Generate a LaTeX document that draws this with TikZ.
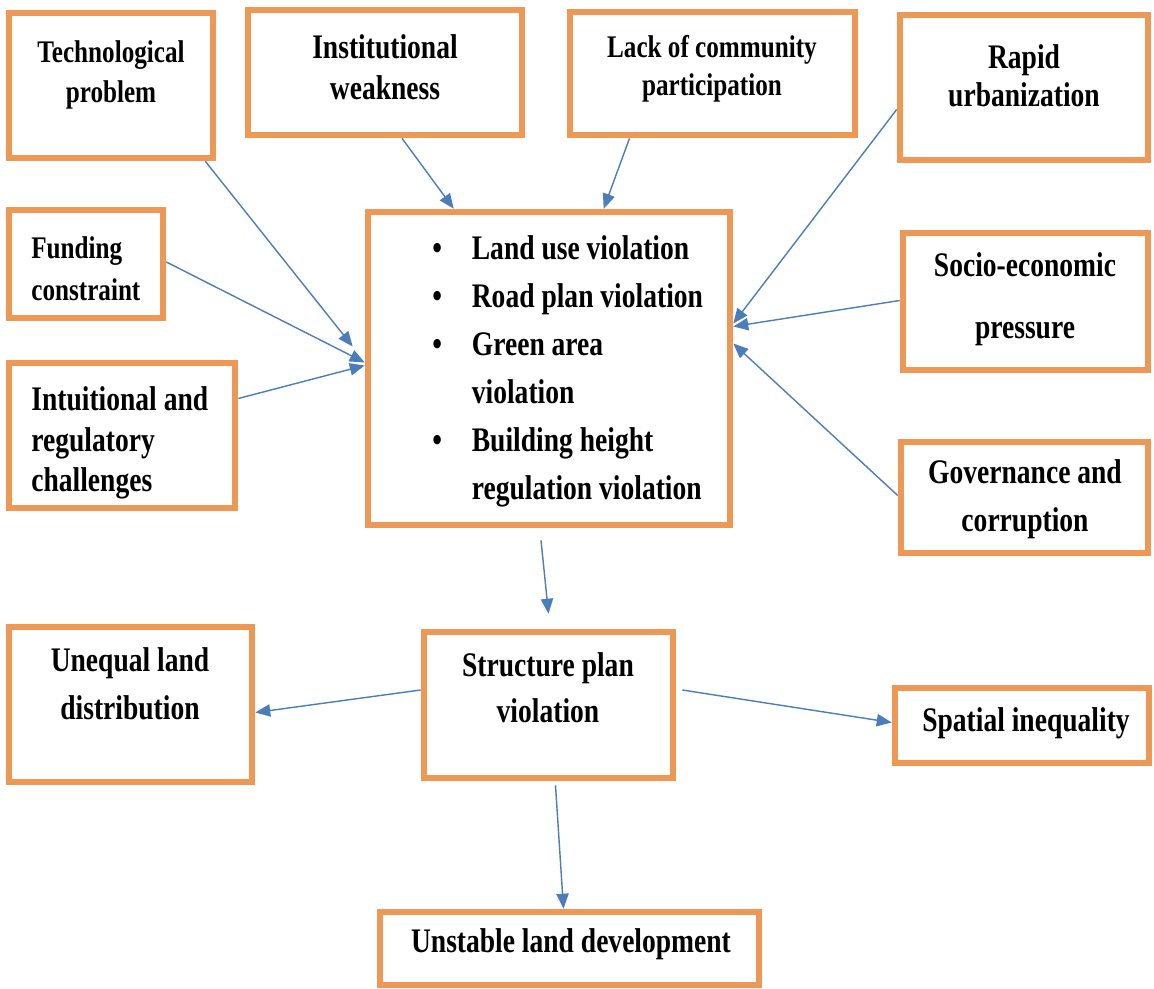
\documentclass[tikz,border=0pt]{standalone}
\usepackage{fontspec}
\setmainfont{Liberation Serif}[FakeStretch=0.8]
\usetikzlibrary{%
    arrows.meta,%
    calc,%
    positioning%
}
\definecolor{boxorange}{RGB}{237,152,84}
\definecolor{arrowblue}{RGB}{74,126,187}

\begin{document}
\begin{tikzpicture}[x=0.02cm, y=-0.02cm,
	box/.style={draw=boxorange, line width=3.8pt, inner sep=0pt},
	lbl/.style={inner sep=0pt, align=center, font=\bfseries\fontsize{19.6}{#1}\selectfont},
	lbl/.default=27,
	lblsmall/.style={inner sep=0pt, align=center, font=\bfseries\fontsize{17.9}{#1}\selectfont},
	lblsmall/.default=22.8,
	link/.style={arrowblue, line width=0.8pt, -{Triangle[length=8.5pt, width=7pt]}}]

				\useasboundingbox[fill=white] (0,0) rectangle (1154,989);

				% boxes
				\node[box, minimum width=4.08cm, minimum height=2.90cm] (tech) at (111,85.5) {};
				\node[box, minimum width=5.48cm, minimum height=2.50cm] (inst) at (385,72.5) {};
				\node[box, minimum width=5.70cm, minimum height=2.46cm] (lack) at (712.5,73.5) {};
				\node[box, minimum width=4.96cm, minimum height=2.90cm] (rapid) at (1024,87.5) {};
				\node[box, minimum width=3.08cm, minimum height=2.16cm] (fund) at (86,264) {};
				\node[box, minimum width=4.52cm, minimum height=2.90cm] (intu) at (122,435.5) {};
				\node[box, minimum width=7.24cm, minimum height=6.26cm] (main) at (549,368.5) {};
				\node[box, minimum width=4.90cm, minimum height=2.74cm] (socio) at (1025.5,301.5) {};
				\node[box, minimum width=4.94cm, minimum height=2.22cm] (gov) at (1024.5,497.5) {};
				\node[box, minimum width=4.86cm, minimum height=3.10cm] (uneq) at (130.5,704.5) {};
				\node[box, minimum width=4.98cm, minimum height=2.92cm] (struct) at (548.5,705) {};
				\node[box, minimum width=5.08cm, minimum height=1.50cm] (spat) at (1022,725.5) {};
				\node[box, minimum width=7.58cm, minimum height=1.46cm] (unst) at (569.5,948.5) {};

				% texts
				\node[lblsmall] (techtxt) at (111,75) {Technological\\problem};
				\node[lbl=23.3] (insttxt) at (385,67.5) {Institutional\\weakness};
				\node[lblsmall=21.6] (lacktxt) at (712,69) {Lack of community\\participation};
				\node[lbl=21.6] (rapidtxt) at (1024,76) {Rapid\\urbanization};
				\node[lblsmall=23.9, align=left, anchor=west] (fundtxt) at (31,269) {Funding\\constraint};
				\node[lbl=23, align=left, anchor=west] (intutxt) at (31,443) {Intuitional and\\regulatory\\challenges};
				\node[lbl=27.3, anchor=west] (maintxt) at (432,370) {%
					\begin{tabular}{@{}l@{\hspace{17pt}}l@{}}
					\textbullet & Land use violation\\
					\textbullet & Road plan violation\\
					\textbullet & Green area\\
					 & violation\\
					\textbullet & Building height\\
					 & regulation violation
					\end{tabular}};
				\node[lbl=35.3] (sociotxt) at (1025,299) {Socio-economic\\pressure};
				\node[lbl=27.3] (govtxt) at (1025,499) {Governance and\\corruption};
				\node[lbl=27.3] (uneqtxt) at (130,684) {Unequal land\\distribution};
				\node[lbl=26.2] (structtxt) at (548,688) {Structure plan\\violation};
				\node[lbl] (spattxt) at (1026,723) {Spatial inequality};
				\node[lbl] (unsttxt) at (571,944) {Unstable land development};

				% causes
				\draw[link] ($(tech.south east)+(-11,0)$) -- ($(main.west)+(-12,-22)$);
				\draw[link] ($(fund.east)+(0,-2)$) -- ($(main.west)+(0,-6)$);
				\draw[link] ($(intu.east)+(0,-37)$) -- ($(main.west)+(0,-3)$);
				\draw[link] ($(inst.south)+(17,0)$) -- ($(main.north west)+(89,0)$);
				\draw[link] ($(lack.south)+(-83,0)$) -- ($(main.north west)+(239,0)$);
				\draw[link] ($(rapid.west)+(0,22)$) -- ($(main.east)+(0,-45)$);
				\draw[link] ($(socio.west)+(0,-1)$) -- ($(main.east)+(0,-42)$);
				\draw[link] ($(gov.west)+(0,-2)$) -- ($(main.east)+(0,-25)$);

				% effects
				\draw[link] ($(main.south)+(-8,12)$) -- ($(struct.north)+(0,-15)$);
				\draw[link] ($(struct.west)+(0,-15)$) -- ($(uneq.east)+(0,8)$);
				\draw[link] ($(struct.east)+(6,-15)$) -- ($(spat.west)+(0,-3)$);
				\draw[link] ($(struct.south)+(7,4)$) -- ($(unst.north)+(-6,0)$);
			\end{tikzpicture}
\end{document}
